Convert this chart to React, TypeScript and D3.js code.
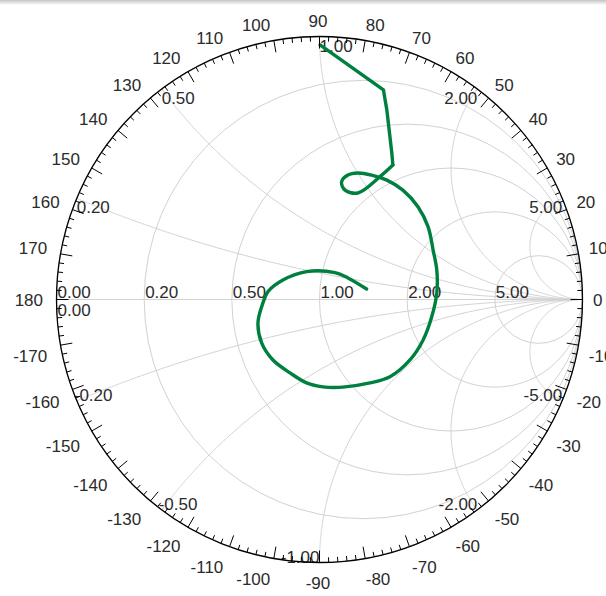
import React from 'react';
import * as d3 from 'd3';

const W = 606;
const H = 596;
const CX = 319.5;
const CY = 299.5;
const R = 263;

// Smith chart grid values
const resistanceValues = [0, 0.2, 0.5, 1, 2, 5];
const resistanceLabels = ['0.00', '0.20', '0.50', '1.00', '2.00', '5.00'];
const reactanceValues = [0.2, 0.5, 1, 2, 5];
const posReactanceLabels = ['0.20', '0.50', '1.00', '2.00', '5.00'];
const negReactanceLabels = ['-0.20', '-0.50', '-1.00', '-2.00', '-5.00'];
const zeroReactanceLabel = '0.00';

// angle scale (degrees)
const angleLabelValues = d3.range(-170, 181, 10);
const minorTickStep = 2;

// measured trace, as reflection coefficient (real, imaginary)
const gammaRe = [0.002, 0.243, 0.256, 0.275, 0.279, 0.23, 0.146, 0.097, 0.084, 0.108, 0.146, 0.198, 0.256, 0.317, 0.375, 0.413, 0.432, 0.446, 0.446, 0.427, 0.394, 0.344, 0.268, 0.192, 0.089, 0.013, -0.049, -0.112, -0.177, -0.22, -0.234, -0.215, -0.196, -0.139, -0.049, 0.059, 0.108, 0.179];
const gammaIm = [0.968, 0.797, 0.721, 0.557, 0.511, 0.467, 0.405, 0.416, 0.447, 0.473, 0.481, 0.473, 0.454, 0.416, 0.352, 0.276, 0.188, 0.112, 0.025, -0.065, -0.154, -0.23, -0.294, -0.317, -0.333, -0.332, -0.317, -0.279, -0.23, -0.165, -0.089, -0.013, 0.03, 0.074, 0.106, 0.102, 0.082, 0.04];
const straightUntil = 4; // first samples are joined by straight segments

const FONT = "'Liberation Sans', Arial, Helvetica, sans-serif";
const TEXT = '#2b2b2b';
const GRID = '#d2d2d2';
const TRACE = '#00803f';

function zToGamma(r: number, x: number): [number, number] {
  const d = (r + 1) * (r + 1) + x * x;
  return [(r * r - 1 + x * x) / d, (2 * x) / d];
}

function textWidth(s: string, fs: number) {
  let w = 0;
  for (const ch of s) {
    if (ch === '-') w += 0.333;
    else if (ch === '.') w += 0.278;
    else w += 0.556;
  }
  return w * fs;
}

export default function App() {
  const xs = d3.scaleLinear().domain([-1, 1]).range([CX - R, CX + R]);
  const ys = d3.scaleLinear().domain([-1, 1]).range([CY + R, CY - R]);
  const rad = (v: number) => xs(v) - xs(0);

  const line = d3
    .line<[number, number]>()
    .x((d) => xs(d[0]))
    .y((d) => ys(d[1]));
  const smooth = d3
    .line<[number, number]>()
    .x((d) => xs(d[0]))
    .y((d) => ys(d[1]))
    .curve(d3.curveCatmullRom.alpha(0.5));

  const rSamples = [0, ...d3.range(-3, 3.001, 0.01).map((e) => Math.pow(10, e)), 1e6];

  const arcs: { d: string; key: string }[] = [];
  reactanceValues.forEach((x) => {
    [x, -x].forEach((xx) => {
      const pts = rSamples.map((r) => zToGamma(r, xx));
      arcs.push({ d: line(pts) as string, key: 'x' + xx });
    });
  });

  const ticks = d3.range(-180, 180, minorTickStep).map((deg) => {
    const a = (deg * Math.PI) / 180;
    const major = deg % 10 === 0;
    const len = major ? 12 : 5;
    const r0 = R;
    return {
      key: deg,
      x1: CX + r0 * Math.cos(a),
      y1: CY - r0 * Math.sin(a),
      x2: CX + (r0 - len) * Math.cos(a),
      y2: CY - (r0 - len) * Math.sin(a),
    };
  });

  const angFs = 17;
  const angleLabels = angleLabelValues.map((deg) => {
    const a = (deg * Math.PI) / 180;
    let c = Math.cos(a);
    let s = Math.sin(a);
    if (Math.abs(c) < 1e-9) c = 0;
    if (Math.abs(s) < 1e-9) s = 0;
    const txt = String(deg);
    const w = textWidth(txt, angFs);
    const rho = 275;
    const x = 318 + rho * c + (Math.sign(c) * w) / 2;
    const yc = 302 - rho * s - Math.sign(s) * 6 - (s === 0 ? 2 : 0);
    return { key: deg, txt, x, y: yc + 6.1 };
  });

  const lblFs = 17;
  const pts = gammaRe.map((v, i) => [v, gammaIm[i]] as [number, number]);
  const traceStraight = line(pts.slice(0, straightUntil + 1)) as string;
  const traceCurve = smooth(pts.slice(straightUntil)) as string;

  return (
    <svg
      width={W}
      height={H}
      style={{ position: 'absolute', left: 0, top: 0, background: '#fff' }}
      fontFamily={FONT}
    >
      <defs>
        <linearGradient id="topbar" x1="0" y1="0" x2="0" y2="1">
          <stop offset="0" stopColor="#c4c4c4" />
          <stop offset="1" stopColor="#ffffff" />
        </linearGradient>
      </defs>
      <rect x={0} y={0} width={W} height={5} fill="url(#topbar)" />

      {/* grid */}
      <g fill="none" stroke={GRID} strokeWidth={1}>
        {resistanceValues.map((r) => (
          <circle key={'r' + r} cx={xs(r / (1 + r))} cy={ys(0)} r={rad(1 / (1 + r))} />
        ))}
        {arcs.map((a) => (
          <path key={a.key} d={a.d} />
        ))}
        <line x1={xs(-1)} y1={ys(0)} x2={xs(1)} y2={ys(0)} />
      </g>

      {/* grid labels */}
      <g fontSize={lblFs} fill={TEXT}>
        {resistanceValues.map((r, i) => (
          <text key={'rl' + r} x={xs((r - 1) / (r + 1)) + 1} y={ys(0) - 2}>
            {resistanceLabels[i]}
          </text>
        ))}
        <text x={xs(-1) + 1} y={ys(0) + 16}>
          {zeroReactanceLabel}
        </text>
        {reactanceValues.map((x, i) => {
          const [gr, gi] = zToGamma(0, x);
          const anchor = gr <= 0.001 ? 'start' : 'end';
          return (
            <text key={'xp' + x} x={xs(gr)} y={ys(gi) + 15} textAnchor={anchor}>
              {posReactanceLabels[i]}
            </text>
          );
        })}
        {reactanceValues.map((x, i) => {
          const [gr, gi] = zToGamma(0, -x);
          const anchor = gr < -0.001 ? 'start' : 'end';
          return (
            <text key={'xn' + x} x={xs(gr) - (anchor === 'start' ? 3 : 0)} y={ys(gi)} textAnchor={anchor}>
              {negReactanceLabels[i]}
            </text>
          );
        })}
      </g>

      {/* trace */}
      <g fill="none" stroke={TRACE} strokeWidth={3.4} strokeLinejoin="round" strokeLinecap="round">
        <path d={traceStraight} />
        <path d={traceCurve} />
      </g>

      {/* boundary + ticks */}
      <circle cx={CX} cy={CY} r={R} fill="none" stroke="#000" strokeWidth={1.3} />
      <g stroke="#000" strokeWidth={1}>
        {ticks.map((t) => (
          <line key={t.key} x1={t.x1} y1={t.y1} x2={t.x2} y2={t.y2} />
        ))}
      </g>

      {/* angle labels */}
      <g fontSize={angFs} fill={TEXT} textAnchor="middle">
        {angleLabels.map((l) => (
          <text key={l.key} x={l.x} y={l.y}>
            {l.txt}
          </text>
        ))}
      </g>
    </svg>
  );
}
